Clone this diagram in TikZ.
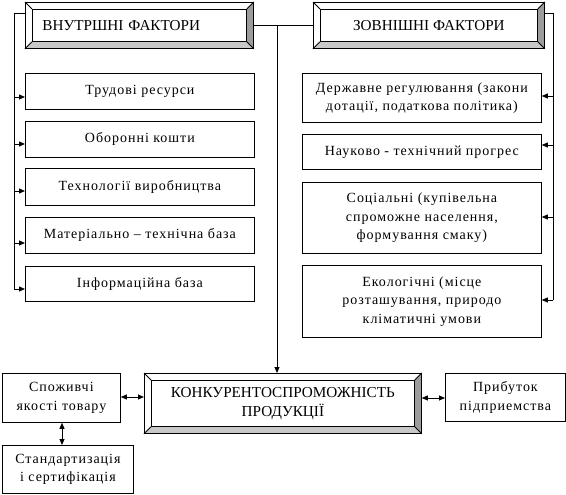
\documentclass[tikz,border=0pt]{standalone}
\usepackage{fontspec}
\setmainfont{Liberation Serif}
\newfontfamily\bodyfont[LetterSpace=7]{Liberation Serif}
\usetikzlibrary{arrows.meta,calc}
\definecolor{bevR}{HTML}{9C9C9C}
\definecolor{bevB}{HTML}{C8C8C8}
\newcommand\bevelframe[2]{%
  \fill[bevR] (#1.north east) -- (#1.south east) -- ($(#1.south east)+(-#2,-#2)$) -- ($(#1.north east)+(-#2,#2)$) -- cycle;
  \fill[bevB] (#1.south west) -- (#1.south east) -- ($(#1.south east)+(-#2,-#2)$) -- ($(#1.south west)+(#2,-#2)$) -- cycle;
  \draw[frame] (#1.north west) rectangle (#1.south east);
  \draw[frame] ($(#1.north west)+(#2,#2)$) rectangle ($(#1.south east)+(-#2,-#2)$);
  \draw[frame] (#1.north west) -- ++(#2,#2);
  \draw[frame] (#1.north east) -- ++(-#2,#2);
  \draw[frame] (#1.south west) -- ++(#2,-#2);
  \draw[frame] (#1.south east) -- ++(-#2,-#2);}
\tikzset{
  frame/.style={line width=0.8pt},
  box/.style={draw, line width=0.8pt, anchor=north west, inner sep=0pt, align=center,
    font=\bodyfont\fontsize{14}{18.3}\selectfont},
  head/.style={box, font=\fontsize{15.2}{18.5}\selectfont},
  link/.style={line width=0.8pt},
  arr/.style={line width=0.8pt, -{Triangle[length=6pt,width=5pt]}},
  darr/.style={line width=0.8pt, {Triangle[length=6pt,width=5pt]}-{Triangle[length=6pt,width=5pt]}},
}
\begin{document}
\begin{tikzpicture}[x=1pt,y=-1pt]
\useasboundingbox (0,0) rectangle (566,495);
% headers
\node[head, minimum width=228pt, minimum height=46pt, text width=206pt, align=left] (inner) at (25,2) {\hspace*{6pt}ВНУТРШНІ ФАКТОРИ};
\bevelframe{inner}{7}
\node[head, minimum width=231pt, minimum height=46pt] (outer) at (313,2) {ЗОВНІШНІ ФАКТОРИ};
\bevelframe{outer}{7}
% left boxes
\node[box, minimum width=229pt, minimum height=36pt] (trud) at (25,73) {Трудові ресурси};
\node[box, minimum width=229pt, minimum height=36pt] (obor) at (25,121) {Оборонні кошти};
\node[box, minimum width=229pt, minimum height=37pt] (tekh) at (25,168) {Технології виробництва};
\node[box, minimum width=229pt, minimum height=36pt] (mat) at (25,217) {Матеріально – технічна база};
\node[box, minimum width=229pt, minimum height=35pt] (info) at (25,266) {Інформаційна база};
% right boxes
\node[box, minimum width=239pt, minimum height=49pt] (derzh) at (302,73) {Державне регулювання (закони\\дотації, податкова політика)};
\node[box, minimum width=239pt, minimum height=35pt] (nauk) at (302,134) {Науково - технічний прогрес};
\node[box, minimum width=239pt, minimum height=71pt] (sots) at (302,182) {Соціальні (купівельна\\спроможне населення,\\формування смаку)};
\node[box, minimum width=239pt, minimum height=72pt] (ekol) at (302,265) {Екологічні (місце\\розташування, природо\\кліматичні умови};
% bottom
\node[head, minimum width=277pt, minimum height=60pt] (konk) at (144,373) {КОНКУРЕНТОСПРОМОЖНІСТЬ\\ПРОДУКЦІЇ};
\bevelframe{konk}{7}
\node[box, minimum width=118pt, minimum height=49pt] (spoz) at (2,373) {Споживчі\\якості товару};
\node[box, minimum width=131pt, minimum height=48pt] (stand) at (2,445) {Стандартизація\\і сертифікація};
\node[box, minimum width=120pt, minimum height=48pt] (prib) at (445,373) {Прибуток\\підприемства};
% left spine
\coordinate (L0) at (14,13);
\coordinate (L1) at (14,97);
\coordinate (L2) at (14,144);
\coordinate (L3) at (14,191);
\coordinate (L4) at (14,243);
\coordinate (L5) at (14,289);
\draw[link] (L0 -| inner.west) -- (L0) -- (L5);
\draw[arr] (L1) -- (L1 -| trud.west);
\draw[arr] (L2) -- (L2 -| obor.west);
\draw[arr] (L3) -- (L3 -| tekh.west);
\draw[arr] (L4) -- (L4 -| mat.west);
\draw[arr] (L5) -- (L5 -| info.west);
% right spine
\coordinate (R0) at (553,13);
\coordinate (R1) at (553,96);
\coordinate (R2) at (553,145);
\coordinate (R3) at (553,217);
\coordinate (R4) at (553,300);
\draw[link] (R0 -| outer.east) -- (R0) -- (R4);
\draw[arr] (R1) -- (R1 -| derzh.east);
\draw[arr] (R2) -- (R2 -| nauk.east);
\draw[arr] (R3) -- (R3 -| sots.east);
\draw[arr] (R4) -- (R4 -| ekol.east);
% middle
\coordinate (M0) at (277,25);
\draw[link] (M0 -| inner.east) -- (M0 -| outer.west);
\draw[arr] (M0) -- (M0 |- konk.north);
% bottom arrows
\coordinate (B1) at (0,397);
\coordinate (B2) at (0,398);
\coordinate (B3) at (62,0);
\draw[darr] (B1 -| spoz.east) -- (B1 -| konk.west);
\draw[darr] (B2 -| konk.east) -- (B2 -| prib.west);
\draw[darr] (B3 |- spoz.south) -- (B3 |- stand.north);
\end{tikzpicture}
\end{document}
